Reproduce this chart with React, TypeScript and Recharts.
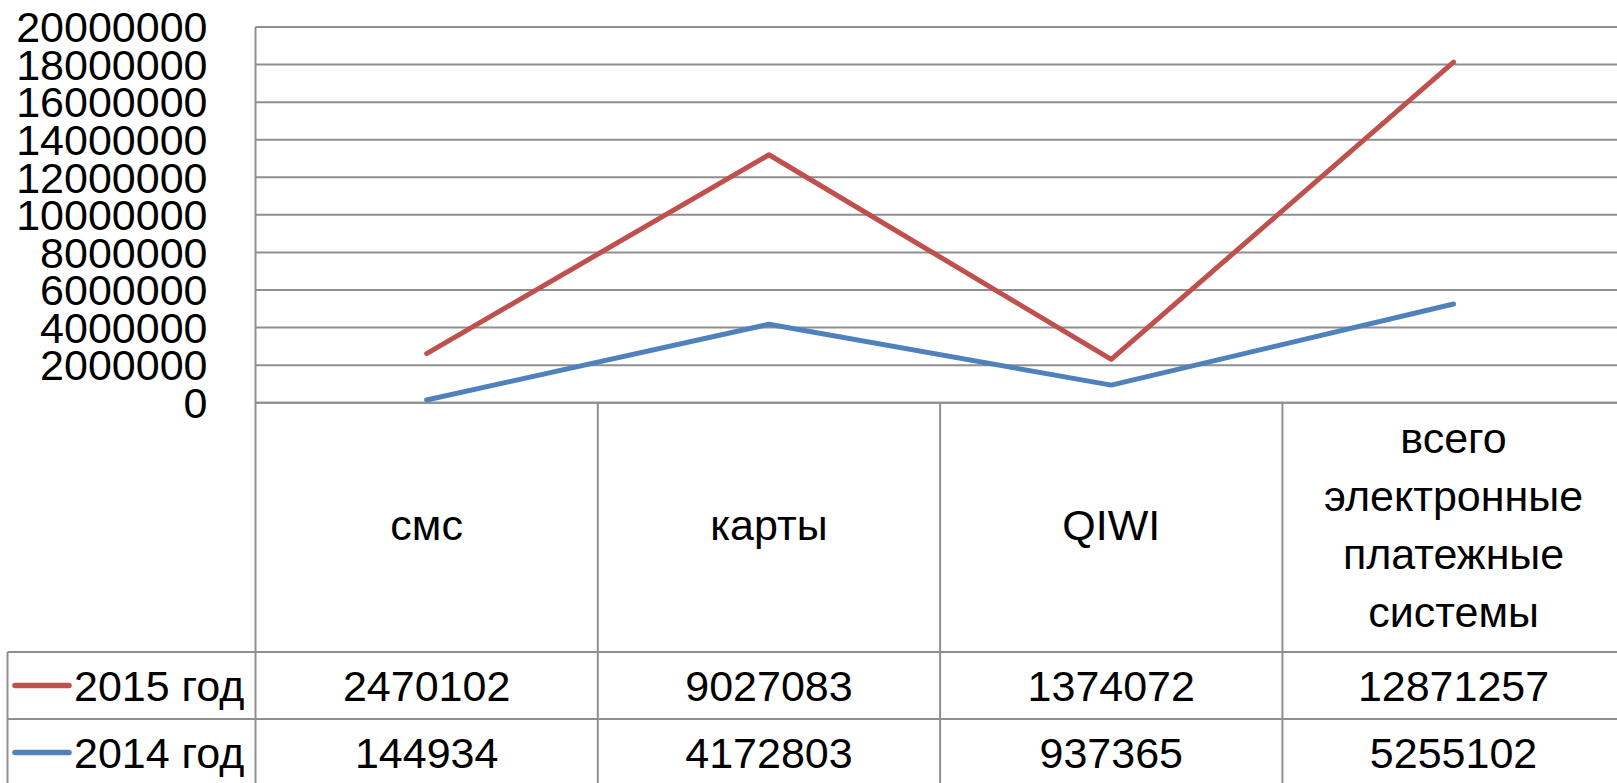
import React from 'react';
import { ComposedChart, Area, XAxis, YAxis, CartesianGrid } from 'recharts';

// ---- data ----
const categories = ['смс', 'карты', 'QIWI', 'всего\nэлектронные\nплатежные\nсистемы'];
const values2015 = [2470102, 9027083, 1374072, 12871257];
const values2014 = [144934, 4172803, 937365, 5255102];
const seriesNames = ['2015 год', '2014 год'];
const yTicks = [0, 2000000, 4000000, 6000000, 8000000, 10000000, 12000000, 14000000, 16000000, 18000000, 20000000];

const data = categories.map((c, i) => ({ cat: c, y2014: values2014[i], y2015: values2015[i] }));

// ---- layout / style ----
const W = 1640;
const H = 783;
const LEFT = 255.5;
const TOP = 27;
const RIGHT_M = 15.3;
const AXIS_H = 380.3;
const PLOT_BOTTOM = H - AXIS_H;
const BW = (W - LEFT - RIGHT_M) / categories.length;
const ROW1_TOP = 652;
const ROW2_TOP = 719;
const ROW_H = 67;
const TABLE_LEFT = 7.5;
const GRID = '#8f8f8f';
const RED = '#C0504D';
const BLUE = '#4F81BD';
const FONT = 'Liberation Sans, Arial, sans-serif';
const FS = 43;

const rowValues = [values2015, values2014];
const rowColors = [RED, BLUE];

const renderTick = (props: any) => {
  const { x, payload } = props;
  const i: number = payload && typeof payload.index === 'number' ? payload.index : props.index;
  const left = x - BW / 2;
  const right = x + BW / 2;
  const lines = String(categories[i]).split('\n');
  const lh = 58;
  const cy = (PLOT_BOTTOM + ROW1_TOP) / 2 + 2;
  const n = lines.length;
  return (
    <g>
      <line x1={left} y1={PLOT_BOTTOM} x2={left} y2={H} stroke={GRID} strokeWidth={2} />
      {i === categories.length - 1 && (
        <line x1={right} y1={PLOT_BOTTOM} x2={right} y2={H} stroke={GRID} strokeWidth={2} />
      )}
      <line x1={left} y1={ROW1_TOP} x2={right} y2={ROW1_TOP} stroke={GRID} strokeWidth={2} />
      <line x1={left} y1={ROW2_TOP} x2={right} y2={ROW2_TOP} stroke={GRID} strokeWidth={2} />
      {lines.map((l, k) => (
        <text
          key={k}
          x={x}
          y={cy + (k - (n - 1) / 2) * lh + 11}
          textAnchor="middle"
          fontFamily={FONT}
          fontSize={FS}
          fill="#000"
        >
          {l}
        </text>
      ))}
      {rowValues.map((vals, r) => (
        <text
          key={'v' + r}
          x={x}
          y={ROW1_TOP + r * ROW_H + ROW_H / 2 + 15}
          textAnchor="middle"
          fontFamily={FONT}
          fontSize={FS}
          fill="#000"
        >
          {vals[i]}
        </text>
      ))}
      {i === 0 && (
        <g>
          <line x1={TABLE_LEFT} y1={ROW1_TOP} x2={left} y2={ROW1_TOP} stroke={GRID} strokeWidth={2} />
          <line x1={TABLE_LEFT} y1={ROW2_TOP} x2={left} y2={ROW2_TOP} stroke={GRID} strokeWidth={2} />
          <line x1={TABLE_LEFT} y1={ROW1_TOP} x2={TABLE_LEFT} y2={H} stroke={GRID} strokeWidth={2} />
          {seriesNames.map((s, r) => {
            const yc = ROW1_TOP + r * ROW_H + ROW_H / 2;
            return (
              <g key={'l' + r}>
                <line x1={15} y1={yc} x2={69} y2={yc} stroke={rowColors[r]} strokeWidth={5.5} strokeLinecap="round" />
                <text x={74} y={yc + 15} textAnchor="start" fontFamily={FONT} fontSize={FS} fill="#000">
                  {s}
                </text>
              </g>
            );
          })}
        </g>
      )}
    </g>
  );
};

export default function App() {
  return (
    <div
      style={{
        position: 'absolute',
        left: 0,
        top: 0,
        width: 1617,
        height: 783,
        overflow: 'hidden',
        background: '#fff',
      }}
    >
      <ComposedChart width={W} height={H} data={data} margin={{ top: TOP, right: RIGHT_M, bottom: 0, left: 0 }}>
        <CartesianGrid vertical={false} stroke={GRID} strokeWidth={2} />
        <XAxis
          dataKey="cat"
          scale="band"
          height={AXIS_H}
          tickSize={0}
          tickMargin={0}
          tickLine={false}
          interval={0}
          axisLine={{ stroke: GRID, strokeWidth: 2 }}
          tick={renderTick}
        />
        <YAxis
          width={LEFT}
          domain={[0, 20000000]}
          ticks={yTicks}
          interval={0}
          tickLine={false}
          tickSize={0}
          tickMargin={48}
          axisLine={{ stroke: GRID, strokeWidth: 2 }}
          tick={{ fontSize: FS, fontFamily: FONT, fill: '#000' }}
        />
        <Area
          type="linear"
          dataKey="y2014"
          stackId="a"
          stroke={BLUE}
          strokeWidth={5}
          fill="none"
          dot={false}
          activeDot={false}
          isAnimationActive={false}
          strokeLinecap="round"
          strokeLinejoin="round"
        />
        <Area
          type="linear"
          dataKey="y2015"
          stackId="a"
          stroke={RED}
          strokeWidth={5}
          fill="none"
          dot={false}
          activeDot={false}
          isAnimationActive={false}
          strokeLinecap="round"
          strokeLinejoin="round"
        />
      </ComposedChart>
    </div>
  );
}
